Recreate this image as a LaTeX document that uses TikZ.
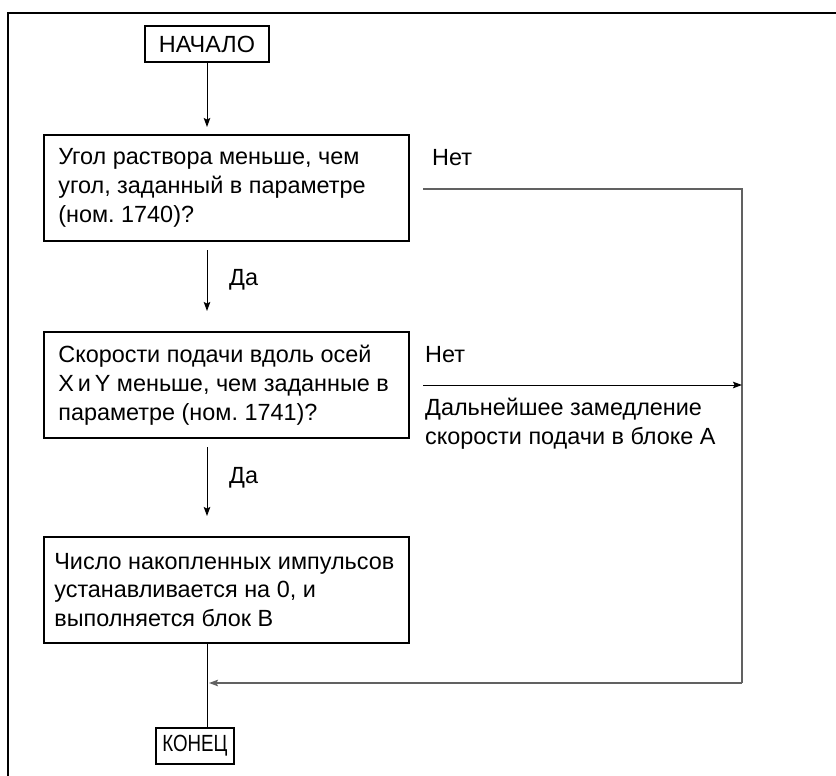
\documentclass[tikz,border=0pt]{standalone}
\usepackage{fontspec}
\usepackage{graphicx}
\setmainfont{Liberation Sans}
\usetikzlibrary{arrows.meta}
\frenchspacing
\begin{document}
\begin{tikzpicture}[x=1bp,y=-1bp,
  every node/.style={font=\fontsize{23.5}{29}\selectfont, inner sep=0pt},
  box/.style={draw, line width=1.7bp, minimum width=365bp, minimum height=106bp},
  boxtext/.style={anchor=west, align=left},
  term/.style={draw, line width=1.7bp, minimum height=36bp},
  lbl/.style={anchor=west, align=left},
  tip/.style={-{Stealth[length=9bp,width=6.5bp,inset=1.5bp]}},
  flow/.style={line width=1bp, tip},
  plain/.style={line width=1bp},
  back/.style={line width=1.3bp, draw=black!62}]
\useasboundingbox (0,0) rectangle (836,776);
\draw[line width=2.2bp] (8,776) -- (8,13) -- (836,13);
\node[term, minimum width=124bp] (start) at (207,44) {НАЧАЛО};
\node[box] (b1) at (226.5,188) {};
\node[boxtext] (b1t) at ([xshift=15bp]b1.west) {Угол раствора меньше, чем\\угол, заданный в параметре\\(ном. 1740)?};
\node[box] (b2) at (226.5,385) {};
\node[boxtext] (b2t) at ([xshift=15bp]b2.west) {Скорости подачи вдоль осей\\X\,и\,Y меньше, чем заданные в\\параметре (ном. 1741)?};
\node[box] (b3) at (226.5,590) {};
\node[boxtext] (b3t) at ([xshift=11bp]b3.west) {Число накопленных импульсов\\устанавливается на 0, и\\выполняется блок B};
\node[term, minimum width=78bp] (end) at (195,746) {\scalebox{0.8}[1]{КОНЕЦ}};
\node[lbl] (no1) at (432,158) {Нет};
\node[lbl] (yes1) at (229,280) {Да};
\node[lbl] (no2) at (425,355) {Нет};
\node[lbl] (slow) at (425,424) {Дальнейшее замедление\\скорости подачи в блоке A};
\node[lbl] (yes2) at (229,478) {Да};
\coordinate (a1e) at (207,127);
\coordinate (a2s) at (207,250);
\coordinate (a2e) at (207,311);
\coordinate (a3s) at (207,447);
\coordinate (a3e) at (207,516);
\coordinate (r1) at (423,189);
\coordinate (r2) at (742,189);
\coordinate (r3) at (742,683);
\coordinate (r4) at (209,683);
\coordinate (n2s) at (423,385);
\coordinate (n2e) at (742,385);
\draw[flow] (start.south) -- (a1e);
\draw[flow] (a2s) -- (a2e);
\draw[flow] (a3s) -- (a3e);
\draw[plain] (b3.south -| a1e) -- (end.north -| a1e);
\draw[back] (r1) -- (r2) -- (r3);
\draw[back, tip] (r3) -- (r4);
\draw[flow] (n2s) -- (n2e);
\end{tikzpicture}
\end{document}
